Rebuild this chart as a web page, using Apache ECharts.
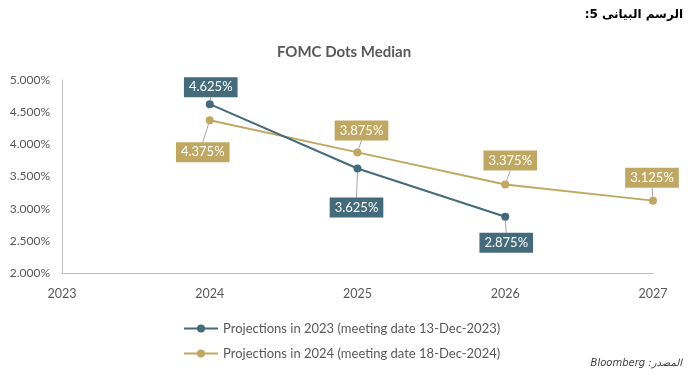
<!DOCTYPE html>
<html><head><meta charset="utf-8">
<script src="https://cdn.jsdelivr.net/npm/echarts@6/dist/echarts.min.js"></script>
<style>html,body{margin:0;padding:0;background:#fff}#c{width:688px;height:378px}</style>
</head><body><div id="c"></div>
<script>
const years2023 = [2024, 2025, 2026];
const values2023 = [4.625, 3.625, 2.875];
const years2024 = [2024, 2025, 2026, 2027];
const values2024 = [4.375, 3.875, 3.375, 3.125];
const seriesNames = ['Projections in 2023 (meeting date 13-Dec-2023)', 'Projections in 2024 (meeting date 18-Dec-2024)'];
const yTicks = [2, 2.5, 3, 3.5, 4, 4.5, 5];

const blue = '#436B7C', gold = '#C0A862';
// label offsets (layout only)
const offsets = [
  [[1,-17],[-1,39],[1,26]],
  [[-7,32],[4,-22],[5,-24],[-1,-23]]
];
const font = 'Lato, "Open Sans", sans-serif';
const chart = echarts.init(document.getElementById('c'));
function mk(name, xs, ys, color, si) {
  return {
    type: 'line', name, data: xs.map((x, i) => [x, ys[i]]),
    symbol: 'circle', symbolSize: 8,
    lineStyle: { color, width: 2 }, itemStyle: { color },
    label: { show: true, position: 'inside', formatter: p => p.value[1].toFixed(3) + '%',
      color: '#fff', fontSize: 13, fontFamily: font, backgroundColor: color, padding: [4, 5, 3, 5] },
    labelLine: { show: true, lineStyle: { color: '#a6a6a6', width: 1 } },
    labelLayout: p => ({ dx: offsets[si][p.dataIndex][0], dy: offsets[si][p.dataIndex][1] }),
    emphasis: { disabled: true }, z: 3 - si
  };
}
chart.setOption({
  animation: false,
  title: { text: 'FOMC Dots Median', left: 'center', top: 40, textStyle: { fontFamily: font, fontSize: 15, fontWeight: 'bold', color: '#595959' } },
  grid: { left: 62, right: 35, top: 80, bottom: 105 },
  xAxis: { type: 'value', min: 2023, max: 2027, interval: 1,
    axisLine: { show: true, lineStyle: { color: '#bfbfbf' } }, axisTick: { show: false }, splitLine: { show: false },
    axisLabel: { color: '#595959', fontSize: 12.5, fontFamily: font, margin: 14, formatter: v => String(v) } },
  yAxis: { type: 'value', min: 2, max: 5, interval: 0.5,
    axisLine: { show: true, lineStyle: { color: '#bfbfbf' } }, axisTick: { show: false }, splitLine: { show: false },
    axisLabel: { color: '#595959', fontSize: 12, fontFamily: font, margin: 12, formatter: v => v.toFixed(3) + '%' } },
  legend: { orient: 'vertical', left: 178, top: 317, itemGap: 12, itemWidth: 34, itemHeight: 10,
    textStyle: { color: '#595959', fontSize: 13, fontFamily: font }, data: seriesNames },
  graphic: [
    { type: 'text', right: 5, top: 9, style: { text: ':5 الرسم البيانى', font: 'bold 12px "DejaVu Sans", sans-serif', fill: '#000' } },
    { type: 'text', right: 6, top: 358, style: { text: 'Bloomberg :المصدر', font: 'italic 10px "DejaVu Sans", sans-serif', fill: '#404040' } }
  ],
  series: [mk(seriesNames[0], years2023, values2023, blue, 0), mk(seriesNames[1], years2024, values2024, gold, 1)]
});
</script></body></html>
